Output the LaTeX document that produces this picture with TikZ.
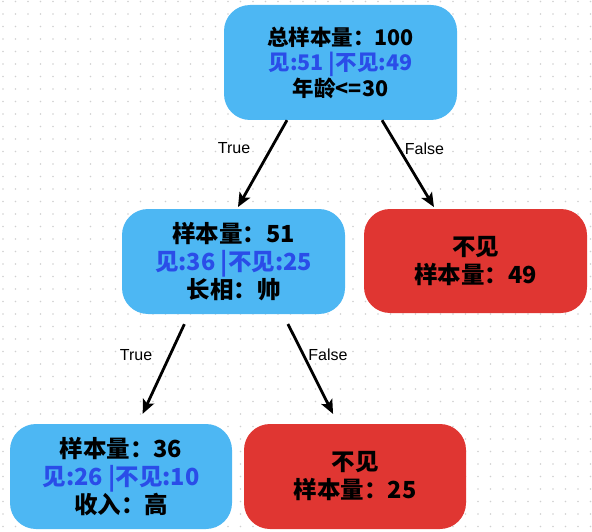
\documentclass[tikz,border=0pt]{standalone}
\usepackage{fontspec}
\newfontfamily\cjk{Noto Sans CJK SC}
\newfontfamily\lblfont{Liberation Sans}
\usetikzlibrary{arrows.meta}
\definecolor{boxblue}{HTML}{4DB7F3}
\definecolor{boxred}{HTML}{E03632}
\definecolor{txtblue}{HTML}{2A4DE8}
\definecolor{dotgray}{HTML}{D0D0D0}
\begin{document}
\begin{tikzpicture}[x=1pt,y=-1pt,
  box/.style={rounded corners=26pt, align=center, inner sep=0pt, text=black,
    font=\cjk\bfseries\fontsize{23.5}{28}\selectfont},
  bluebox/.style={box, fill=boxblue},
  redbox/.style={box, fill=boxred},
  arr/.style={line width=2.8pt, -{Stealth[length=14pt,width=12pt,inset=3pt]}},
  lbl/.style={font=\lblfont\fontsize{16}{18}\selectfont, inner sep=0pt}]
\useasboundingbox (0,0) rectangle (592,532);
\foreach \i in {0,...,47}
  \foreach \j in {0,...,42}
    \fill[dotgray] (3+12.5*\i, 1.5+12.5*\j) circle (0.85pt);
% nodes
\node[bluebox, minimum width=233pt, minimum height=115pt,
  font=\cjk\bfseries\fontsize{21.5}{25.5}\selectfont] (root) at (340.5,62.5)
  {总样本量：100\\\textcolor{txtblue}{见:51 |不见:49}\\年龄<=30};
\node[bluebox, minimum width=223pt, minimum height=105pt] (n1) at (233.5,261.5)
  {样本量：51\\\textcolor{txtblue}{见:36 |不见:25}\\长相：帅};
\node[redbox, minimum width=223pt, minimum height=104pt] (r1) at (475.5,261)
  {不见\\样本量：49};
\node[bluebox, minimum width=222pt, minimum height=105pt] (n2) at (121,476.5)
  {样本量：36\\\textcolor{txtblue}{见:26 |不见:10}\\收入：高};
\node[redbox, minimum width=222pt, minimum height=105pt] (r2) at (355,476.5)
  {不见\\样本量：25};
% connectors
\draw[arr, shorten >=2pt] ([xshift=-53.5pt]root.south) -- ([xshift=3.5pt]n1.north);
\draw[arr, shorten >=2pt] ([xshift=41.5pt]root.south) -- ([xshift=-40.5pt]r1.north);
\draw[arr, shorten <=11pt, shorten >=11pt] ([xshift=-44.5pt]n1.south) -- ([xshift=17pt]n2.north);
\draw[arr, shorten <=11pt, shorten >=11pt] ([xshift=49.5pt]n1.south) -- ([xshift=-17pt]r2.north);
% labels
\node[lbl] (t1) at (234,148.5) {True};
\node[lbl] (f1) at (424.5,148.5) {False};
\node[lbl] (t2) at (136,355) {True};
\node[lbl] (f2) at (328,355) {False};
\end{tikzpicture}
\end{document}
